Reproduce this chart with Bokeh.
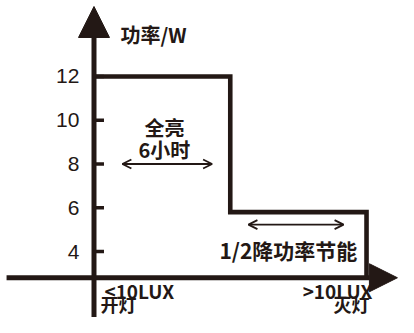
from bokeh.plotting import figure
from bokeh.models import Range1d, Arrow, NormalHead, OpenHead
from bokeh.core.properties import value
from bokeh.embed import file_html
from bokeh.resources import INLINE

# ---- data ----
hours = [0, 6, 12]            # time points (schematic hours)
power = [12, 5.8]             # power level in each segment (W)
axis_level = 2.8              # where the time axis crosses the power axis
y_ticks = [4, 6, 8, 10, 12]
y_tick_labels = ["4", "6", "8", "10", "12"]
x_top_labels = ["<10LUX", ">10LUX"]
x_bottom_labels = ["开灯", "灭灯"]
title_text = "功率/W"
full_text = ["全亮", "6小时"]
half_text = "1/2降功率节能"

INK = "#231815"
CJK = "Noto Sans CJK SC"

W, H = 398, 317
p = figure(width=W, height=H, output_backend="svg", toolbar_location=None,
           x_range=Range1d(-4.117, 13.408), y_range=Range1d(0.983, 15.474),
           min_border=0, min_border_left=0, min_border_right=0,
           min_border_top=0, min_border_bottom=0)
p.axis.visible = False
p.grid.visible = False
p.outline_line_color = None
p.background_fill_color = "white"
p.border_fill_color = "white"

# ---- axes (drawn as arrows through data coordinates) ----
p.add_layout(Arrow(x_start=0, y_start=0.5, x_end=0, y_end=15.2,
                   line_color=INK, line_width=5,
                   end=NormalHead(size=31, fill_color=INK, line_color=INK, line_width=1)))
p.add_layout(Arrow(x_start=-3.85, y_start=axis_level, x_end=13.36, y_end=axis_level,
                   line_color=INK, line_width=5,
                   end=NormalHead(size=28, fill_color=INK, line_color=INK, line_width=1)))

# ---- ticks on the power axis ----
tick_len = 0.44
p.segment(x0=[0] * len(y_ticks), y0=y_ticks, x1=[tick_len] * len(y_ticks), y1=y_ticks,
          line_color=INK, line_width=3.5)
p.text(x=[-0.64] * len(y_ticks), y=y_ticks, text=y_tick_labels,
       text_font=value("Liberation Sans"), text_font_size="21px",
       text_align="right", text_baseline="middle", text_color=INK)

# ---- step power curve ----
sx = [hours[0], hours[1], hours[1], hours[2], hours[2]]
sy = [power[0], power[0], power[1], power[1], axis_level]
p.line(sx, sy, line_color=INK, line_width=4.6, line_join="miter")

# ---- title of power axis ----
p.text(x=[1.17], y=[13.92], text=[title_text], text_font=value(CJK),
       text_font_style="bold", text_font_size="20px",
       text_align="left", text_baseline="middle", text_color=INK)

# ---- full brightness annotation ----
p.text(x=[3.1, 3.1], y=[9.67, 8.66], text=full_text, text_font=value(CJK),
       text_font_style="bold", text_font_size="20px",
       text_align="center", text_baseline="middle", text_color=INK)
p.add_layout(Arrow(x_start=1.25, y_start=8, x_end=5.2, y_end=8,
                   line_color=INK, line_width=1.8,
                   start=OpenHead(size=9, line_color=INK, line_width=1.8),
                   end=OpenHead(size=9, line_color=INK, line_width=1.8)))

# ---- half power annotation ----
p.add_layout(Arrow(x_start=6.8, y_start=5.23, x_end=10.99, y_end=5.23,
                   line_color=INK, line_width=1.8,
                   start=OpenHead(size=9, line_color=INK, line_width=1.8),
                   end=OpenHead(size=9, line_color=INK, line_width=1.8)))
p.text(x=[8.56], y=[4.05], text=[half_text], text_font=value(CJK),
       text_font_style="bold", text_font_size="21px",
       text_align="center", text_baseline="middle", text_color=INK)

# ---- time axis labels ----
p.text(x=[0.46], y=[2.21], text=[x_top_labels[0]], text_font=value(CJK),
       text_font_style="bold", text_font_size="19px",
       text_align="left", text_baseline="middle", text_color=INK)
p.text(x=[0.29], y=[1.58], text=[x_bottom_labels[0]], text_font=value(CJK),
       text_font_style="bold", text_font_size="18px",
       text_align="left", text_baseline="middle", text_color=INK)
p.text(x=[12.26], y=[2.21], text=[x_top_labels[1]], text_font=value(CJK),
       text_font_style="bold", text_font_size="19px",
       text_align="right", text_baseline="middle", text_color=INK)
p.text(x=[12.13], y=[1.58], text=[x_bottom_labels[1]], text_font=value(CJK),
       text_font_style="bold", text_font_size="18px",
       text_align="right", text_baseline="middle", text_color=INK)

open("out.html", "w").write(file_html(p, INLINE))
